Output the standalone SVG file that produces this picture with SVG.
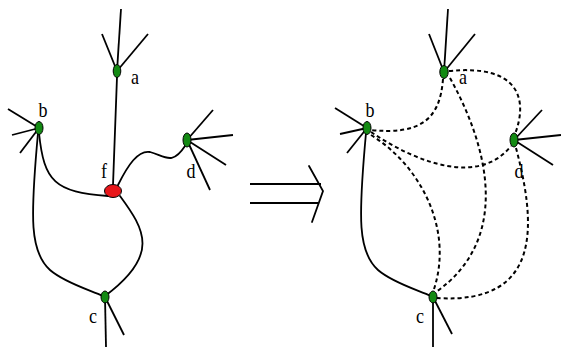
<svg xmlns="http://www.w3.org/2000/svg" width="561" height="348" viewBox="0 0 561 348">
  <style>
    .edge { fill: none; stroke: #000; stroke-width: 1.8; stroke-linecap: round; }
    .dash { fill: none; stroke: #000; stroke-width: 2; stroke-dasharray: 4 3; }
    .leg { stroke: #000; stroke-width: 1.8; }
    .gn { fill: #138a13; stroke: #000; stroke-width: 1; }
    .rn { fill: #e8161a; stroke: #000; stroke-width: 1; }
    .lbl { font-family: "Liberation Serif", "Times New Roman", serif; font-size: 22px; fill: #000; text-anchor: middle; }
  </style>
  <rect width="561" height="348" fill="#fff"/>

  <!-- before: vertex f joined to a, b, c, d -->
  <g id="connectors-left">
    <path class="edge" d="M117,77 L113,185"/>
    <path class="edge" d="M39,133 C44,182 55,192 108,196"/>
    <path class="edge" d="M118,185 C128,165 138,150 150,152 C165,156 172,166 185,146"/>
    <path class="edge" d="M120,196 C145,230 160,255 105,296"/>
    <path class="edge" d="M38,133 C30,220 30,252 50,270 C65,283 90,290 103,296"/>
  </g>
  <g id="node-a-left">
    <line class="leg" x1="117" y1="71" x2="121" y2="9"/>
    <line class="leg" x1="117" y1="71" x2="102" y2="34"/>
    <line class="leg" x1="117" y1="71" x2="148" y2="34"/>
    <ellipse class="gn" cx="117" cy="71" rx="3.8" ry="6.5"/>
    <text class="lbl" transform="translate(135,84) scale(0.82,1)">a</text>
  </g>
  <g id="node-b-left">
    <line class="leg" x1="39" y1="128" x2="8" y2="109"/>
    <line class="leg" x1="39" y1="128" x2="12" y2="135"/>
    <line class="leg" x1="39" y1="128" x2="20" y2="153"/>
    <ellipse class="gn" cx="39" cy="128" rx="4" ry="6.5"/>
    <text class="lbl" transform="translate(43,117) scale(0.82,1)">b</text>
  </g>
  <g id="node-d-left">
    <line class="leg" x1="187" y1="140" x2="213" y2="110"/>
    <line class="leg" x1="187" y1="140" x2="233" y2="135"/>
    <line class="leg" x1="187" y1="140" x2="226" y2="165"/>
    <line class="leg" x1="187" y1="140" x2="210" y2="190"/>
    <ellipse class="gn" cx="187" cy="140" rx="4" ry="7"/>
    <text class="lbl" transform="translate(191,178) scale(0.82,1)">d</text>
  </g>
  <g id="node-c-left">
    <line class="leg" x1="105" y1="297" x2="106" y2="347"/>
    <line class="leg" x1="105" y1="297" x2="124" y2="335"/>
    <ellipse class="gn" cx="105" cy="297" rx="4" ry="6"/>
    <text class="lbl" transform="translate(93,323) scale(0.82,1)">c</text>
  </g>
  <g id="node-f">
    <ellipse class="rn" cx="113" cy="191" rx="8.5" ry="6.5"/>
    <text class="lbl" transform="translate(104,178) scale(0.82,1)">f</text>
  </g>

  <!-- implication arrow -->
  <g id="implies">
    <line class="leg" x1="250" y1="184" x2="321" y2="184"/>
    <line class="leg" x1="250" y1="203" x2="318" y2="203"/>
    <polyline class="edge" points="309,166 323,191 312,222"/>
  </g>

  <!-- after: f removed, its neighbours pairwise joined -->
  <g id="connectors-right">
    <path class="edge" d="M366,133 C358,220 358,252 378,270 C393,283 418,290 431,296"/>
    <path class="dash" d="M443,79 C440,120 420,135 370,130"/>
    <path class="dash" d="M449,71 C520,64 528,100 515,134"/>
    <path class="dash" d="M371,132 C420,165 480,185 511,146"/>
    <path class="dash" d="M371,135 C420,165 455,230 433,292"/>
    <path class="dash" d="M450,78 C490,150 510,240 436,292"/>
    <path class="dash" d="M516,148 C535,220 545,305 437,298"/>
  </g>
  <g id="node-a-right">
    <line class="leg" x1="444" y1="72" x2="448" y2="9"/>
    <line class="leg" x1="444" y1="72" x2="429" y2="34"/>
    <line class="leg" x1="444" y1="72" x2="475" y2="34"/>
    <ellipse class="gn" cx="444" cy="72" rx="4.2" ry="6.5"/>
    <text class="lbl" transform="translate(463,84) scale(0.82,1)">a</text>
  </g>
  <g id="node-b-right">
    <line class="leg" x1="367" y1="128" x2="335" y2="108"/>
    <line class="leg" x1="367" y1="128" x2="340" y2="134"/>
    <line class="leg" x1="367" y1="128" x2="347" y2="153"/>
    <ellipse class="gn" cx="367" cy="128" rx="4" ry="6.5"/>
    <text class="lbl" transform="translate(370,117) scale(0.82,1)">b</text>
  </g>
  <g id="node-d-right">
    <line class="leg" x1="514" y1="140" x2="542" y2="110"/>
    <line class="leg" x1="514" y1="140" x2="561" y2="135"/>
    <line class="leg" x1="514" y1="140" x2="553" y2="165"/>
    <ellipse class="gn" cx="514" cy="140" rx="4" ry="7"/>
    <text class="lbl" transform="translate(519,178) scale(0.82,1)">d</text>
  </g>
  <g id="node-c-right">
    <line class="leg" x1="433" y1="297" x2="433" y2="347"/>
    <line class="leg" x1="433" y1="297" x2="452" y2="334"/>
    <ellipse class="gn" cx="433" cy="297" rx="4" ry="6"/>
    <text class="lbl" transform="translate(420,323) scale(0.82,1)">c</text>
  </g>
</svg>
